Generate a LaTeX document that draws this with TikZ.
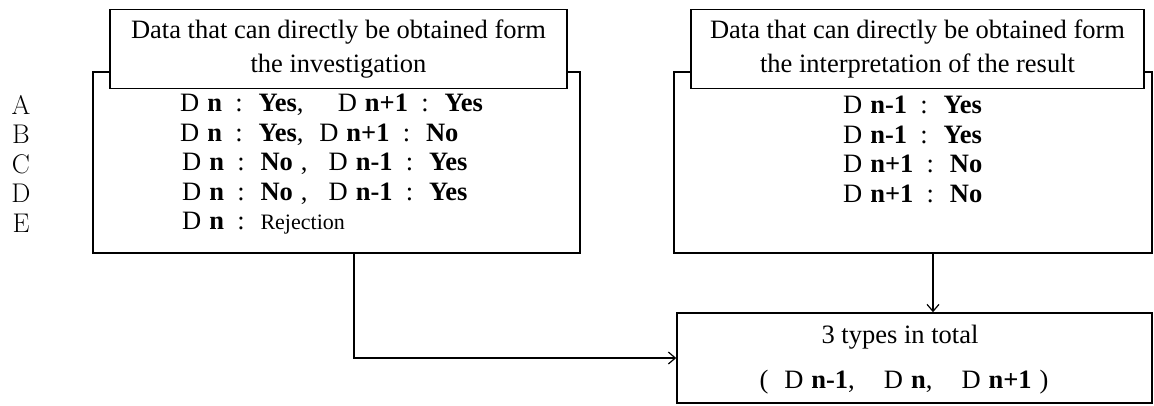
\documentclass[tikz,border=0pt]{standalone}
\usepackage{fontspec}
\newfontfamily\tnr{Liberation Serif}
\usetikzlibrary{arrows.meta}
% spacing used inside the D-rows
\newcommand\dsp{\hspace{0.3em}}
\newcommand\clsp{\hspace{0.5em}:\hspace{0.6em}}

\begin{document}
\begin{tikzpicture}[x=1pt,y=-1pt,>={Straight Barb[length=7pt,width=12pt]},
    font=\tnr\fontsize{26.5}{34}\selectfont,
    bigbox/.style={draw,line width=1.5pt,inner sep=0pt},
    headbox/.style={draw,line width=1.5pt,fill=white,align=center,inner sep=0pt},
    rowtext/.style={anchor=west,inner sep=0pt},
    rowlabel/.style={font=\rmfamily\fontsize{27}{30}\selectfont,inner sep=0pt}]
    \useasboundingbox (0,0) rectangle (1154,405);
    % outer boxes first, the headers sit on top of them
    \node[bigbox,minimum width=487pt,minimum height=181pt] (invbox) at (336.5,162.5) {};
    \node[bigbox,minimum width=478pt,minimum height=181pt] (intbox) at (913,162.5) {};
    \node[headbox,minimum width=457pt,minimum height=79pt] (invhead) at (338.5,49)
        {Data that can directly be obtained form\\the investigation};
    \node[headbox,minimum width=453pt,minimum height=79pt] (inthead) at (917.5,49)
        {Data that can directly be obtained form\\the interpretation of the result};
    % rows of the investigation
    \node[rowlabel] (labA) at (21,105) {A};
    \node[rowlabel] (labB) at (21,134.5) {B};
    \node[rowlabel] (labC) at (21,164) {C};
    \node[rowlabel] (labD) at (21,193.5) {D};
    \node[rowlabel] (labE) at (21,223) {E};
    \node[rowtext] (rowA) at (180,105) {D\dsp\textbf{n}\clsp\textbf{Yes},\hspace{1.3em}D\dsp\textbf{n+1}\clsp\textbf{Yes}};
    \node[rowtext] (rowB) at (180,134.5) {D\dsp\textbf{n}\clsp\textbf{Yes},\hspace{0.6em}D\dsp\textbf{n+1}\clsp\textbf{No}};
    \node[rowtext] (rowC) at (182,164) {D\dsp\textbf{n}\clsp\textbf{No}\hspace{0.3em},\hspace{0.8em}D\dsp\textbf{n-1}\clsp\textbf{Yes}};
    \node[rowtext] (rowD) at (182,193.5) {D\dsp\textbf{n}\clsp\textbf{No}\hspace{0.3em},\hspace{0.8em}D\dsp\textbf{n-1}\clsp\textbf{Yes}};
    \node[rowtext] (rowE) at (182,223) {D\dsp\textbf{n}\clsp{\fontsize{22}{26}\selectfont Rejection}};
    % rows of the interpretation
    \node[rowtext] (resA) at (843,105) {D\dsp\textbf{n-1}\clsp\textbf{Yes}};
    \node[rowtext] (resB) at (843,134.5) {D\dsp\textbf{n-1}\clsp\textbf{Yes}};
    \node[rowtext] (resC) at (843,164) {D\dsp\textbf{n+1}\clsp\textbf{No}};
    \node[rowtext] (resD) at (843,193.5) {D\dsp\textbf{n+1}\clsp\textbf{No}};
    % result
    \node[bigbox,minimum width=475pt,minimum height=90pt] (total) at (914.5,358) {};
    \node (totA) at (900,337) {3 types in total};
    \node (totB) at (904,382) {(\hspace{0.6em}D\dsp\textbf{n-1},\hspace{1.1em}D\dsp\textbf{n},\hspace{1.1em}D\dsp\textbf{n+1}\hspace{0.3em})};
    % connectors
    \coordinate (drop) at (354,0);
    \coordinate (down) at (933,0);
    \draw[->,line width=1.2pt] (drop |- invbox.south) |- (total.west);
    \draw[->,line width=1.2pt] (down |- intbox.south) -- (down |- total.north);
\end{tikzpicture}
\end{document}
